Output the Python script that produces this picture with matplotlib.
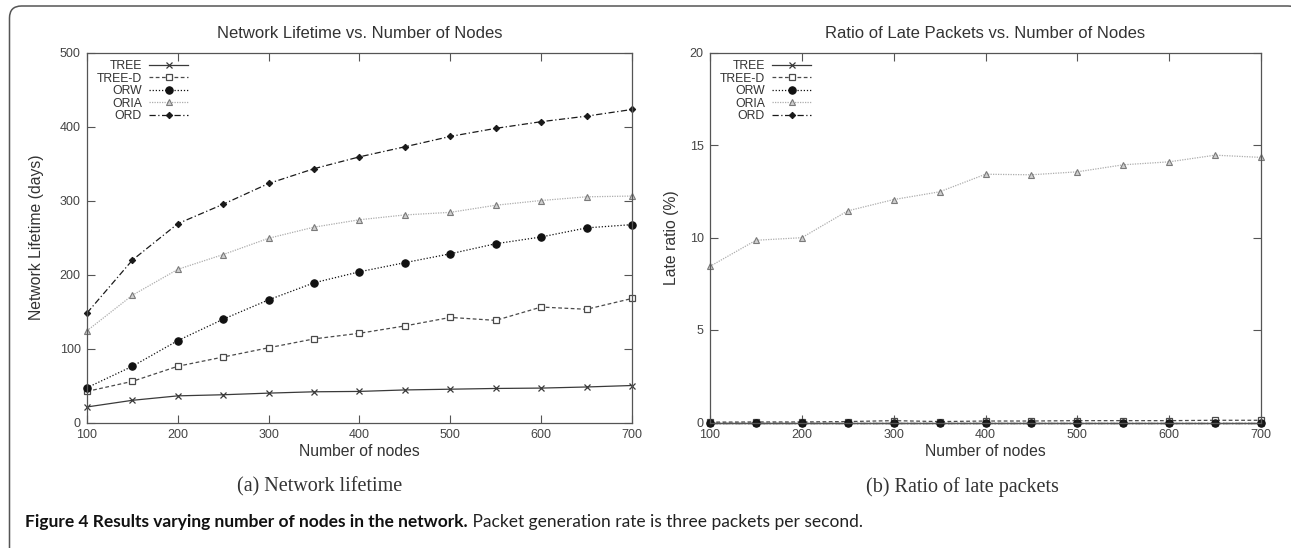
#!/usr/bin/env python3
"""Network lifetime and late-packet ratio vs. number of nodes (Figure 4)."""
import matplotlib.pyplot as plt
from matplotlib.patches import FancyBboxPatch

W, H = 1291, 548

nodes = [100, 150, 200, 250, 300, 350, 400, 450, 500, 550, 600, 650, 700]
schemes = ["TREE", "TREE-D", "ORW", "ORIA", "ORD"]

# network lifetime (days)
life_tree = [21, 30, 36, 37.5, 39.7, 41.5, 42, 44, 45, 46, 46.5, 48, 50]
life_tree_d = [42, 55.6, 76, 88.5, 101, 113, 120.6, 130.5, 142, 138, 156, 153, 167.6]
life_orw = [47, 76, 110.7, 139.6, 165.8, 188.8, 203.7, 216, 228, 241.6, 250.7, 263, 267.4]
life_oria = [124, 172, 207, 227, 249, 264, 274, 280.5, 284, 293.6, 300, 305, 306]
life_ord = [148, 219.5, 268.7, 295, 323, 343, 359, 372.6, 386.6, 397.5, 406.5, 414, 423]

# late packets (%)
late_tree = [0, 0, 0, 0, 0, 0, 0, 0, 0, 0, 0, 0, 0]
late_tree_d = [0.02, 0.03, 0.03, 0.05, 0.1, 0.05, 0.08, 0.08, 0.1, 0.1, 0.1, 0.12, 0.12]
late_orw = [0, 0, 0, 0, 0, 0, 0, 0, 0, 0, 0, 0, 0]
late_oria = [8.44, 9.85, 9.99, 11.44, 12.05, 12.47, 13.42, 13.39, 13.55, 13.93, 14.09, 14.45, 14.33]
late_ord = [0, 0, 0, 0, 0, 0, 0, 0, 0, 0, 0, 0, 0]

styles = {
    "TREE": dict(color="#3a3a3a", ls="-", marker="x", ms=5, mew=0.9),
    "TREE-D": dict(color="#4a4a4a", ls=(0, (3, 2)), marker="s", ms=5, mfc="white", mew=0.9),
    "ORW": dict(color="#111111", ls=(0, (1, 1.5)), marker="o", ms=5.3, mew=0.8),
    "ORIA": dict(color="#adadad", ls=(0, (1, 1)), marker="^", ms=5, mfc="#cfcfcf",
                 mec="#7a7a7a", mew=0.8),
    "ORD": dict(color="#1a1a1a", ls=(0, (5, 2, 1, 2)), marker="D", ms=3.2, mew=0.8),
}

TXT = "#333333"
SANS = ["Liberation Sans", "DejaVu Sans"]


def px_rect(x0, y0, x1, y1):
    return [x0 / W, 1 - y1 / H, (x1 - x0) / W, (y1 - y0) / H]


def panel(ax, series, title, ylabel, ymax, ystep, label_x):
    for name, ys in zip(schemes, series):
        ax.plot(nodes, ys, lw=0.9, label=name, clip_on=False, **styles[name])
    ax.set_xlim(100, 700)
    ax.set_ylim(0, ymax)
    ax.set_xticks(range(100, 701, 100))
    ax.set_yticks(range(0, ymax + 1, ystep))
    ax.tick_params(direction="in", top=True, right=True, length=6, width=0.8,
                   color="#555555", labelcolor="#444444", labelsize=9, pad=4.5)
    for sp in ax.spines.values():
        sp.set_color("#555555")
        sp.set_linewidth(0.9)
    for lab in ax.get_xticklabels() + ax.get_yticklabels():
        lab.set_family(SANS)

    ax.text(0.5, 1 + 19.5 / 370, title, transform=ax.transAxes, ha="center",
            va="center", fontsize=12, color=TXT, family=SANS)
    ax.set_xlabel("Number of nodes", fontsize=11.3, color=TXT, family=SANS, va="center")
    ax.xaxis.set_label_coords(0.5, -29.5 / 370)
    ax.set_ylabel(ylabel, fontsize=11.3, color=TXT, family=SANS, va="center")
    ax.yaxis.set_label_coords(label_x, 0.5)

    leg = ax.legend(loc="upper left", frameon=False, markerfirst=False,
                    handlelength=3.2, handletextpad=0.6, labelspacing=0.04,
                    borderaxespad=0.4, prop={"family": SANS, "size": 8.8},
                    bbox_to_anchor=(0.0, 1.006))
    for t in leg.get_texts():
        t.set_color(TXT)
    # right-align the labels against the line samples
    for col in leg._legend_handle_box.get_children():
        col.align = "right"


fig = plt.figure(figsize=(W / 100, H / 100), dpi=100)

bg = fig.add_axes([0, 0, 1, 1], zorder=-1)
bg.set_xlim(0, W)
bg.set_ylim(H, 0)
bg.axis("off")
bg.add_patch(FancyBboxPatch((9.5, 6), 1300 - 9.5, 560 - 6,
                            boxstyle="round,pad=0,rounding_size=12",
                            fc="white", ec="#555555", lw=1.1, clip_on=False))

ax1 = fig.add_axes(px_rect(87, 52.5, 632, 422.5))
panel(ax1, [life_tree, life_tree_d, life_orw, life_oria, life_ord],
      "Network Lifetime vs. Number of Nodes", "Network Lifetime (days)",
      500, 100, (36.5 - 87) / 545)

ax2 = fig.add_axes(px_rect(710, 52.5, 1261, 422.5))
panel(ax2, [late_tree, late_tree_d, late_orw, late_oria, late_ord],
      "Ratio of Late Packets vs. Number of Nodes", "Late ratio (%)",
      20, 5, (671 - 710) / 551)

serif = ["Liberation Serif", "DejaVu Serif"]
bg.text(320, 487, "(a) Network lifetime", ha="center", va="center",
        fontsize=14.5, color=TXT, family=serif)
bg.text(962, 487, "(b) Ratio of late packets", ha="center", va="center",
        fontsize=14.5, color=TXT, family=serif)

cap = ["Lato", "DejaVu Sans"]
head = bg.text(25, 522, "Figure 4 Results varying number of nodes in the network.",
               ha="left", va="center", fontsize=12.5, fontweight="bold",
               color="#111111", family=cap)
bg.annotate(" Packet generation rate is three packets per second.",
            xy=(1, 0.5), xycoords=head, ha="left", va="center",
            fontsize=12.5, color="#222222", family=cap)

fig.savefig("out.png", dpi=100)
